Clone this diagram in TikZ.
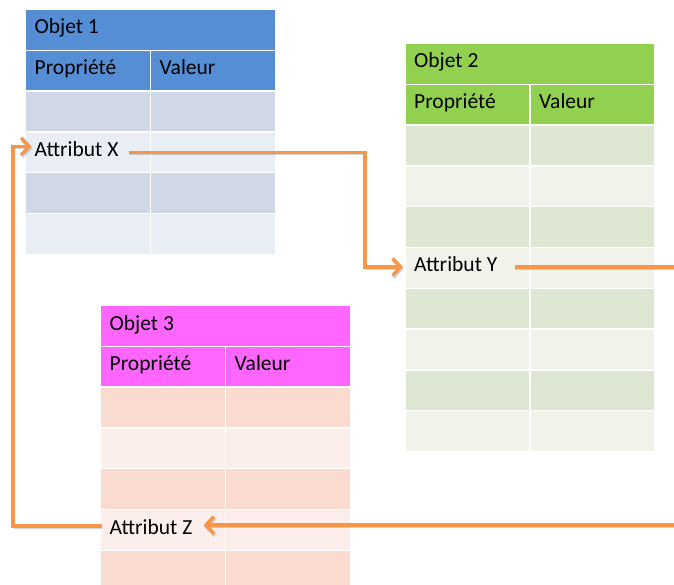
\documentclass[tikz,border=0pt]{standalone}
\usepackage{fontspec}
\setmainfont{Carlito}
\usetikzlibrary{calc,arrows.meta}

\definecolor{blueHead}{HTML}{558ED5}
\definecolor{blueDark}{HTML}{D0D8E8}
\definecolor{blueLight}{HTML}{E9EDF4}
\definecolor{greenHead}{HTML}{92D050}
\definecolor{greenDark}{HTML}{DEE7D1}
\definecolor{greenLight}{HTML}{EFF3EA}
\definecolor{pinkHead}{HTML}{FF66FF}
\definecolor{pinkDark}{HTML}{FADBCF}
\definecolor{pinkLight}{HTML}{FCEEEA}
\definecolor{linkOrange}{HTML}{F79646}

\tikzset{
  cell/.style={draw=white, line width=1.3pt, minimum width=125pt,
    minimum height=40.8pt, anchor=north west, inner sep=0pt, outer sep=0pt},
  lbl/.style={font=\fontsize{21.5}{25}\selectfont, text=black,
    anchor=base west, inner sep=0pt},
  link/.style={draw=linkOrange, line width=3.6pt,
    -{Straight Barb[length=8pt,width=17pt,line width=3.4pt]},
    preaction={draw=black, draw opacity=0.16,
      transform canvas={shift={(0.8pt,-2pt)}}}},
}

% #1 name, #2 left, #3 top, #4 header colour, #5 dark row, #6 light row,
% #7 title, #8 number of body rows
\newcommand{\objettable}[8]{%
  \node[cell, minimum width=250pt, fill=#4] (#1-h) at (#2,#3) {};
  \node[lbl] at ($(#1-h.north west)+(9,24.5)$) {#7};
  \node[cell, fill=#4] (#1-pa) at ($(#1-h.north west)+(0,40.8)$) {};
  \node[cell, fill=#4] (#1-pb) at ($(#1-pa.north west)+(125,0)$) {};
  \node[lbl] at ($(#1-pa.north west)+(9,24.5)$) {Propriété};
  \node[lbl] at ($(#1-pb.north west)+(9,24.5)$) {Valeur};
  \foreach \i in {1,...,#8}{
    \pgfmathsetmacro{\rowtop}{#3+40.8*(\i+1)}
    \pgfmathtruncatemacro{\odd}{mod(\i,2)}
    \ifnum\odd=1 \def\rowfill{#5}\else\def\rowfill{#6}\fi
    \node[cell, fill=\rowfill] (#1-r\i a) at (#2,\rowtop) {};
    \node[cell, fill=\rowfill] (#1-r\i b) at (#2+125,\rowtop) {};
  }%
}

\begin{document}
\begin{tikzpicture}[x=1pt, y=-1pt]
  \useasboundingbox (0,0) rectangle (674,585);
  \clip (0,0) rectangle (674,585);

  % the three object tables
  \objettable{ta}{25.5}{9.5}{blueHead}{blueDark}{blueLight}{Objet 1}{4}
  \objettable{tb}{405}{43.5}{greenHead}{greenDark}{greenLight}{Objet 2}{8}
  \objettable{tc}{100.5}{305.5}{pinkHead}{pinkDark}{pinkLight}{Objet 3}{5}

  % attribute labels
  \node[lbl] (attrX) at ($(ta-r2a.north west)+(9,24.5)$) {Attribut X};
  \node[lbl] (attrY) at ($(tb-r4a.north west)+(9,24.5)$) {Attribut Y};
  \node[lbl] (attrZ) at ($(tc-r4a.north west)+(9,24.5)$) {Attribut Z};

  % free ends at the right border
  \coordinate (outY) at (674,267);
  \coordinate (inZ) at (674,525);

  % links between attributes
  \draw[link] ($(attrX.base east)+(10,-4)$) -| (365,210)
              |- ($(attrY.base west)+(-11,-5)$);
  \draw[link, -] ($(attrY.base east)+(17,-5)$) -- (outY);
  \draw[link] (inZ) -- ($(attrZ.base east)+(11,-9)$);
  \draw[link] ($(attrZ.base west)+(-8,-8)$) -| (13,300)
              |- ($(attrX.base west)+(-3,-10)$);
\end{tikzpicture}
\end{document}
